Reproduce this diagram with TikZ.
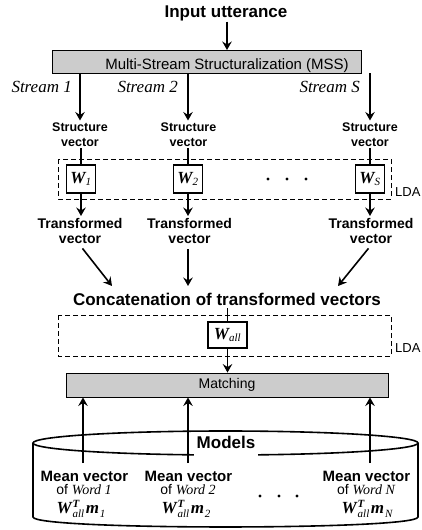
\documentclass[tikz,border=0pt]{standalone}
\usepackage{fontspec}
\setmainfont{Liberation Sans}
\newfontfamily\tms{Liberation Serif}
\usetikzlibrary{arrows.meta}
\newcommand{\bw}{{\tms\bfseries\itshape W}}
\newcommand{\bm}{{\tms\bfseries\itshape m}}
\newcommand{\smi}[1]{\mbox{\fontsize{11}{11}\selectfont\tms\itshape #1}}
\newcommand{\wtm}[1]{\bw\kern1pt\rlap{\raisebox{6pt}{\smi{\bfseries T}}}\raisebox{-3.5pt}{\smi{all}}\kern1.5pt\bm\kern1pt\raisebox{-3.5pt}{\smi{#1}}}
\tikzset{
  arr/.style={line width=1.6pt,-{Stealth[length=8.5pt,width=9.5pt,inset=3pt]}},
  ln/.style={line width=1.6pt},
  wbox/.style={draw,line width=1.6pt,minimum width=29pt,minimum height=28pt,inner sep=0pt,fill=white,font=\fontsize{17}{17}\selectfont},
  ldabox/.style={draw,dash pattern=on 5pt off 3pt,line width=0.9pt},
  graybox/.style={draw,line width=0.9pt,fill=gray!40,inner sep=0pt},
  svlbl/.style={font=\fontsize{12.5}{15}\selectfont\bfseries,align=center,inner sep=0pt,outer sep=2pt},
  tvlbl/.style={font=\fontsize{14}{15}\selectfont\bfseries,align=center,inner sep=0pt,outer sep=2pt},
  strlbl/.style={font=\fontsize{17}{17}\selectfont\tms\itshape,inner sep=0pt,anchor=base east},
  mvlbl/.style={font=\fontsize{15}{15}\selectfont\bfseries,inner sep=0pt,anchor=base},
  oflbl/.style={font=\fontsize{14}{14}\selectfont,inner sep=0pt,anchor=base},
  fmlbl/.style={font=\fontsize{17}{17}\selectfont,inner sep=0pt,anchor=base},
  ldalbl/.style={font=\fontsize{13}{13}\selectfont,inner sep=0pt,anchor=base west},
}
\begin{document}
\begin{tikzpicture}[x=1pt,y=-1pt]
\useasboundingbox (0,0) rectangle (422,530);
% top
\node[font=\fontsize{17}{17}\selectfont\bfseries,inner sep=0pt,outer sep=1pt,anchor=base] (in) at (226,17) {Input utterance};
\node[graybox,minimum width=309pt,minimum height=23pt] (mss) at (206.5,61.5) {};
\node[font=\fontsize{15}{15}\selectfont,inner sep=0pt,anchor=base] (msst) at (227,69) {Multi-Stream Structuralization (MSS)};
\coordinate (mssin) at (227,50);
\draw[arr] (in.south -| mssin) -- (mssin);
% streams
\node[strlbl] (st1) at (72,92) {Stream 1};
\node[strlbl] (st2) at (178,92) {Stream 2};
\node[strlbl] (st3) at (360,92) {Stream S};
\node[svlbl,anchor=north] (sv1) at (80,120.5) {Structure\\vector};
\node[svlbl,anchor=north] (sv2) at (188.5,120.5) {Structure\\vector};
\node[svlbl,anchor=north] (sv3) at (370,120.5) {Structure\\vector};
\coordinate (a1) at (80,73);
\coordinate (a2) at (188,73);
\coordinate (a3) at (370,73);
\draw[arr] (a1) -- (a1 |- sv1.north);
\draw[arr] (a2) -- (a2 |- sv2.north);
\draw[arr] (a3) -- (a3 |- sv3.north);
% LDA 1
\draw[ldabox] (58,159) rectangle (391,199);
\node[ldalbl] (lda1) at (395,196) {LDA};
\node[wbox] (w1) at (81,179) {\bw$_{\smi{1}}$};
\node[wbox] (w2) at (188,179) {\bw$_{\smi{2}}$};
\node[wbox] (ws) at (370,179) {\bw$_{\smi{S}}$};
\draw[ln] (sv1.south -| w1.north) -- (w1.north);
\draw[ln] (sv2.south -| w2.north) -- (w2.north);
\draw[ln] (sv3.south -| ws.north) -- (ws.north);
\fill (268,179) circle (1.7pt) (287,179) circle (1.7pt) (306,179) circle (1.7pt);
\node[tvlbl,anchor=north] (tv1) at (80,216) {Transformed\\vector};
\node[tvlbl,anchor=north] (tv2) at (189.5,216) {Transformed\\vector};
\node[tvlbl,anchor=north] (tv3) at (371,216) {Transformed\\vector};
\draw[arr] (w1.south) -- (w1.south |- tv1.north);
\draw[arr] (w2.south) -- (w2.south |- tv2.north);
\draw[arr] (ws.south) -- (ws.south |- tv3.north);
% concatenation
\node[font=\fontsize{17}{17}\selectfont\bfseries,inner sep=0pt,anchor=base] (cat) at (227,305) {Concatenation of transformed vectors};
\coordinate (c1) at (112,286);
\coordinate (c2) at (188,286);
\coordinate (c3) at (338,286);
\draw[arr,shorten <=4pt] (tv1.south) -- (c1);
\draw[arr,shorten <=4pt] (tv2.south -| c2) -- (c2);
\draw[arr,shorten <=4pt] (tv3.south) -- (c3);
% LDA 2
\draw[ldabox] (58,315) rectangle (391,356);
\node[ldalbl] (lda2) at (395,352) {LDA};
\node[wbox,minimum width=39pt,minimum height=26pt] (wall) at (227.5,335) {\bw$_{\smi{all}}$};
\draw[ln,shorten <=3pt] (cat.south -| wall.north) -- (wall.north);
% matching
\node[graybox,minimum width=322pt,minimum height=24pt,font=\fontsize{14}{14}\selectfont] (match) at (227,385) {Matching};
\draw[arr] (wall.south) -- (match.north -| wall.south);
% cylinder
\draw[line width=1.6pt] (33,443) -- (33,517) .. controls (33,530.3) and (418,530.3) .. (418,517) -- (418,443);
\draw[line width=1.6pt] (225.5,443) ellipse [x radius=192.5, y radius=12];
\node[font=\fontsize{17}{17}\selectfont\bfseries,fill=white,inner xsep=3pt,inner ysep=1pt,text depth=8pt,anchor=base] (models) at (226,448) {Models};
% mean vectors
\node[mvlbl] (mv1) at (84.5,481) {Mean vector};
\node[mvlbl] (mv2) at (188.5,481) {Mean vector};
\node[mvlbl] (mv3) at (366.5,481) {Mean vector};
\node[oflbl] (of1) at (84,494) {of {\tms\itshape Word 1}};
\node[oflbl] (of2) at (188,494) {of {\tms\itshape Word 2}};
\node[oflbl] (of3) at (366,494) {of {\tms\itshape Word N}};
\node[fmlbl] (f1) at (81,513.5) {\wtm{1}};
\node[fmlbl] (f2) at (186,513.5) {\wtm{2}};
\node[fmlbl] (f3) at (367,513.5) {\wtm{N}};
\fill (260,496) circle (1.7pt) (279,496) circle (1.7pt) (297,496) circle (1.7pt);
\coordinate (u1) at (83,463);
\coordinate (u2) at (188,463);
\coordinate (u3) at (370,463);
\draw[arr] (u1) -- (u1 |- match.south);
\draw[arr] (u2) -- (u2 |- match.south);
\draw[arr] (u3) -- (u3 |- match.south);
\end{tikzpicture}
\end{document}
